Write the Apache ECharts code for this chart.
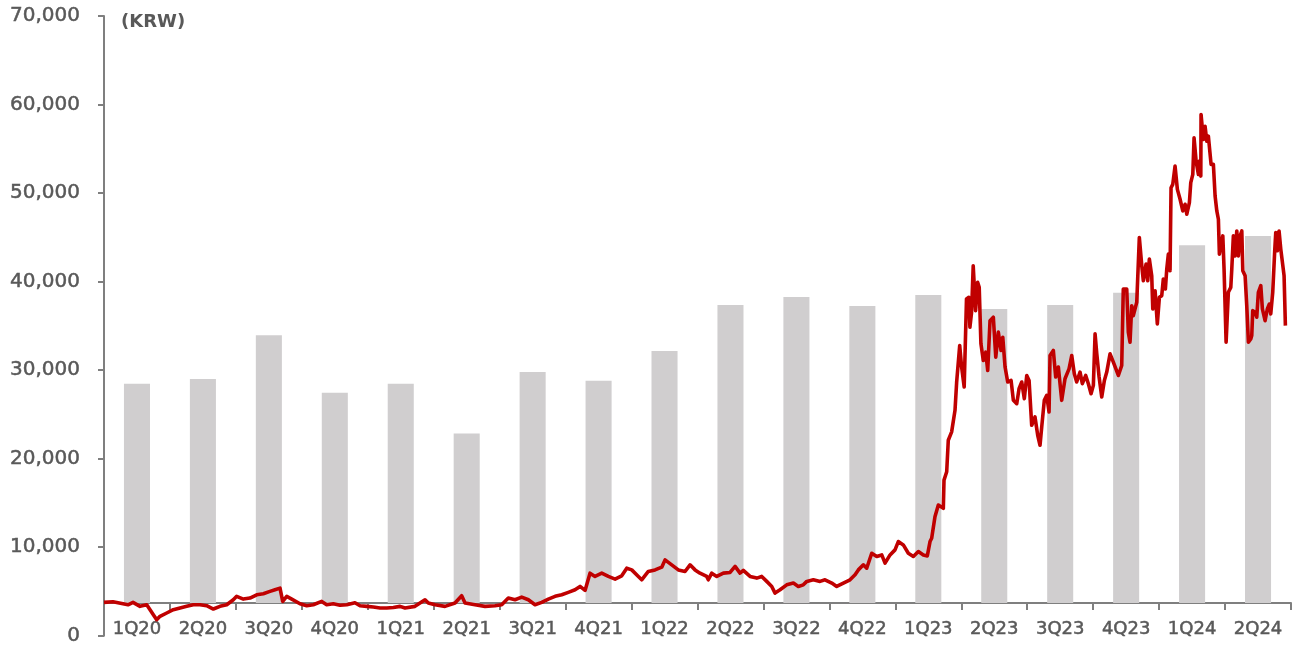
<!DOCTYPE html>
<html>
<head>
<meta charset="utf-8">
<script src="https://cdn.jsdelivr.net/npm/echarts@6/dist/echarts.min.js"></script>
<style>
  html, body { margin: 0; padding: 0; background: #ffffff; }
  #chart { width: 1296px; height: 646px; }
</style>
</head>
<body>
<div id="chart"></div>
<script>
// Quarter categories along the bottom axis
const quarters = ['1Q20','2Q20','3Q20','4Q20','1Q21','2Q21','3Q21','4Q21','1Q22','2Q22',
                  '3Q22','4Q22','1Q23','2Q23','3Q23','4Q23','1Q24','2Q24'];

// Quarterly bar values (KRW)
const barValues = [28450, 29000, 33950, 27450, 28450, 22850, 29800, 28800, 32150, 37350,
                   38250, 37250, 38500, 36900, 37350, 38750, 44100, 45150];

// Value at which the category axis crosses the value axis
const axisCross = 3700;

// Value axis ticks
const yMin = 0, yMax = 70000, yStep = 10000;

// Share price path: [position in quarters from start of 1Q20, price in KRW]
const priceTrack = [
  [0.000,3770],[0.136,3840],[0.288,3610],[0.364,3500],[0.440,3770],[0.546,3320],[0.648,3500],
  [0.698,2940],[0.748,2380],[0.799,1810],[0.849,2190],[0.951,2570],[1.051,2940],[1.153,3130],
  [1.254,3320],[1.354,3500],[1.456,3500],[1.557,3390],[1.658,3020],[1.759,3320],[1.861,3500],
  [1.961,4065],[2.012,4450],[2.113,4140],[2.214,4260],[2.316,4630],[2.416,4740],[2.517,5010],
  [2.593,5190],[2.669,5380],[2.710,3880],[2.771,4450],[2.847,4140],[2.972,3610],[3.074,3390],
  [3.174,3500],[3.301,3880],[3.377,3500],[3.477,3610],[3.579,3440],[3.681,3500],[3.806,3720],
  [3.882,3390],[3.984,3320],[4.084,3240],[4.186,3130],[4.287,3130],[4.387,3200],[4.489,3320],
  [4.565,3130],[4.716,3320],[4.868,4065],[4.918,3690],[5.020,3500],[5.171,3320],[5.323,3690],
  [5.424,4520],[5.475,3690],[5.626,3500],[5.778,3320],[5.929,3390],[6.031,3500],[6.131,4260],
  [6.233,4065],[6.334,4370],[6.435,4065],[6.536,3500],[6.638,3770],[6.738,4140],[6.840,4450],
  [6.941,4630],[7.041,4900],[7.143,5190],[7.219,5570],[7.295,5120],[7.370,7070],[7.446,6700],
  [7.548,7070],[7.648,6700],[7.750,6400],[7.851,6770],[7.927,7630],[8.003,7440],[8.103,6700],
  [8.154,6320],[8.254,7260],[8.356,7440],[8.458,7750],[8.508,8570],[8.609,8010],[8.709,7440],
  [8.811,7260],[8.887,8010],[8.963,7440],[9.038,7070],[9.140,6700],[9.164,6320],[9.216,7070],
  [9.292,6700],[9.392,7070],[9.494,7150],[9.570,7830],[9.645,7070],[9.695,7380],[9.797,6700],
  [9.899,6510],[9.974,6700],[10.050,6140],[10.126,5570],[10.176,4820],[10.252,5190],[10.353,5750],
  [10.454,5950],[10.529,5570],[10.605,5750],[10.657,6140],[10.757,6320],[10.858,6140],[10.934,6320],
  [11.036,5950],[11.111,5570],[11.212,5950],[11.313,6320],[11.389,6880],[11.439,7440],[11.515,8010],
  [11.566,7630],[11.642,9320],[11.718,8950],[11.794,9130],[11.844,8200],[11.920,9130],[11.995,9700],
  [12.045,10640],[12.121,10260],[12.197,9320],[12.273,8950],[12.349,9510],[12.425,9130],[12.485,9020],
  [12.526,10640],[12.551,11010],[12.601,13450],[12.652,14760],[12.678,14950],[12.728,14390],
  [12.738,17580],[12.779,18520],[12.803,22080],[12.854,23030],[12.905,25460],[12.930,28660],
  [12.953,28840],[12.976,32780],[13.003,30500],[13.044,28090],[13.079,38040],[13.115,38230],
  [13.131,34850],[13.156,36540],[13.181,41790],[13.217,36720],[13.248,39920],[13.272,39350],
  [13.298,32970],[13.334,31090],[13.371,32030],[13.401,29960],[13.436,35590],[13.486,35980],
  [13.523,31470],[13.562,34290],[13.603,32220],[13.629,33720],[13.664,30350],[13.704,28660],
  [13.755,28840],[13.790,26590],[13.841,26210],[13.876,27900],[13.917,28660],[13.956,26780],
  [13.993,29400],[14.028,28840],[14.068,23770],[14.118,24720],[14.159,22640],[14.194,21520],
  [14.220,23590],[14.259,26590],[14.296,27150],[14.331,25280],[14.346,31650],[14.396,32220],
  [14.432,29220],[14.472,30350],[14.523,26590],[14.573,29030],[14.634,30150],[14.675,31650],
  [14.714,29590],[14.750,28660],[14.801,29780],[14.836,28470],[14.887,29400],[14.927,28470],
  [14.968,27340],[15.003,28280],[15.029,34100],[15.055,31840],[15.090,29220],[15.130,26970],
  [15.170,28840],[15.206,29780],[15.256,31840],[15.306,30910],[15.382,29400],[15.433,30530],
  [15.457,39160],[15.509,39160],[15.533,34290],[15.559,33160],[15.585,37280],[15.609,36160],
  [15.661,37660],[15.700,44980],[15.737,41790],[15.761,40100],[15.802,41980],[15.828,40100],
  [15.852,42540],[15.888,40660],[15.904,36910],[15.939,38970],[15.973,35220],[16.004,38230],
  [16.040,38410],[16.064,40290],[16.095,39160],[16.116,41410],[16.140,43100],[16.166,41220],
  [16.181,50600],[16.207,50980],[16.242,53050],[16.277,50420],[16.318,49300],[16.359,47980],
  [16.394,48730],[16.420,47610],[16.459,48930],[16.480,51180],[16.511,52110],[16.530,56240],
  [16.561,53610],[16.596,52110],[16.611,53610],[16.632,51920],[16.636,58870],[16.671,56050],
  [16.697,57550],[16.723,55860],[16.747,56430],[16.773,56620],[16.788,53240],[16.823,53240],
  [16.849,49670],[16.875,47980],[16.899,47040],[16.914,43100],[16.935,44040],[16.966,45160],
  [16.985,41410],[17.016,33160],[17.050,38790],[17.087,39350],[17.102,41410],[17.126,45160],
  [17.152,42910],[17.178,45720],[17.202,42910],[17.228,45160],[17.254,45720],[17.269,41220],
  [17.304,40660],[17.329,37280],[17.354,33160],[17.390,33530],[17.405,33910],[17.420,36720],
  [17.455,36540],[17.481,35980],[17.505,38790],[17.542,39540],[17.566,36910],[17.607,35590],
  [17.641,36910],[17.672,37470],[17.693,36350],[17.723,38790],[17.753,43480],[17.769,45550],
  [17.793,43480],[17.819,45720],[17.845,43670],[17.875,43480],[17.895,40660],[17.915,35030]
];

const TEXT = '#595959';
const AXIS = '#7f7f7f';
const BAR = '#d0cecf';
const LINE = '#c00000';
const FONT = 'DejaVu Sans';

const GRID_TOP = 16, GRID_BOTTOM = 8.2, H = 646;
const gridHeight = H - GRID_TOP - GRID_BOTTOM;
// the category axis sits at axisCross rather than at zero
const crossOffset = -(axisCross - yMin) / (yMax - yMin) * gridHeight;

const labelText = { color: TEXT, fontFamily: FONT, textBorderColor: TEXT, textBorderWidth: 0.5 };

const chart = echarts.init(document.getElementById('chart'), null, { renderer: 'canvas' });

chart.setOption({
  animation: false,
  backgroundColor: '#ffffff',
  grid: { left: 104, right: 5, top: GRID_TOP, bottom: GRID_BOTTOM, containLabel: false },
  xAxis: [
    {
      type: 'category',
      data: quarters,
      offset: crossOffset,
      boundaryGap: true,
      axisLine: { show: true, lineStyle: { color: AXIS, width: 2 } },
      axisTick: { show: true, length: 7, inside: false, alignWithLabel: false, interval: 0,
                  lineStyle: { color: AXIS, width: 2 } },
      axisLabel: Object.assign({ interval: 0, margin: 17, fontSize: 18 }, labelText),
      splitLine: { show: false }
    },
    {
      type: 'value',
      min: 0, max: quarters.length,
      show: false,
      splitLine: { show: false }
    }
  ],
  yAxis: {
    type: 'value',
    min: yMin, max: yMax, interval: yStep,
    axisLine: { show: true, lineStyle: { color: AXIS, width: 2 } },
    axisTick: { show: true, length: 6, inside: false, lineStyle: { color: AXIS, width: 2 } },
    axisLabel: Object.assign({
      margin: 24, fontSize: 20,
      formatter: v => v.toLocaleString('en-US')
    }, labelText),
    splitLine: { show: false }
  },
  graphic: [
    { type: 'text', left: 121, top: 13,
      style: { text: '(KRW)', fill: TEXT, font: 'bold 18px "DejaVu Sans"' } }
  ],
  series: [
    {
      type: 'custom',
      xAxisIndex: 0, yAxisIndex: 0,
      data: barValues.map((v, i) => [i, v]),
      encode: { x: 0, y: 1 },
      z: 1,
      renderItem: (params, api) => {
        const i = api.value(0);
        const top = api.coord([i, api.value(1)]);
        const base = api.coord([i, axisCross]);
        const w = api.size([1, 0])[0] * 0.395;
        return {
          type: 'rect',
          shape: { x: top[0] - w / 2, y: top[1], width: w, height: base[1] - top[1] },
          style: { fill: BAR }
        };
      }
    },
    {
      type: 'line',
      xAxisIndex: 1, yAxisIndex: 0,
      data: priceTrack,
      showSymbol: false,
      z: 3,
      lineStyle: { color: LINE, width: 3.6, join: 'round' }
    }
  ]
});
</script>
</body>
</html>
